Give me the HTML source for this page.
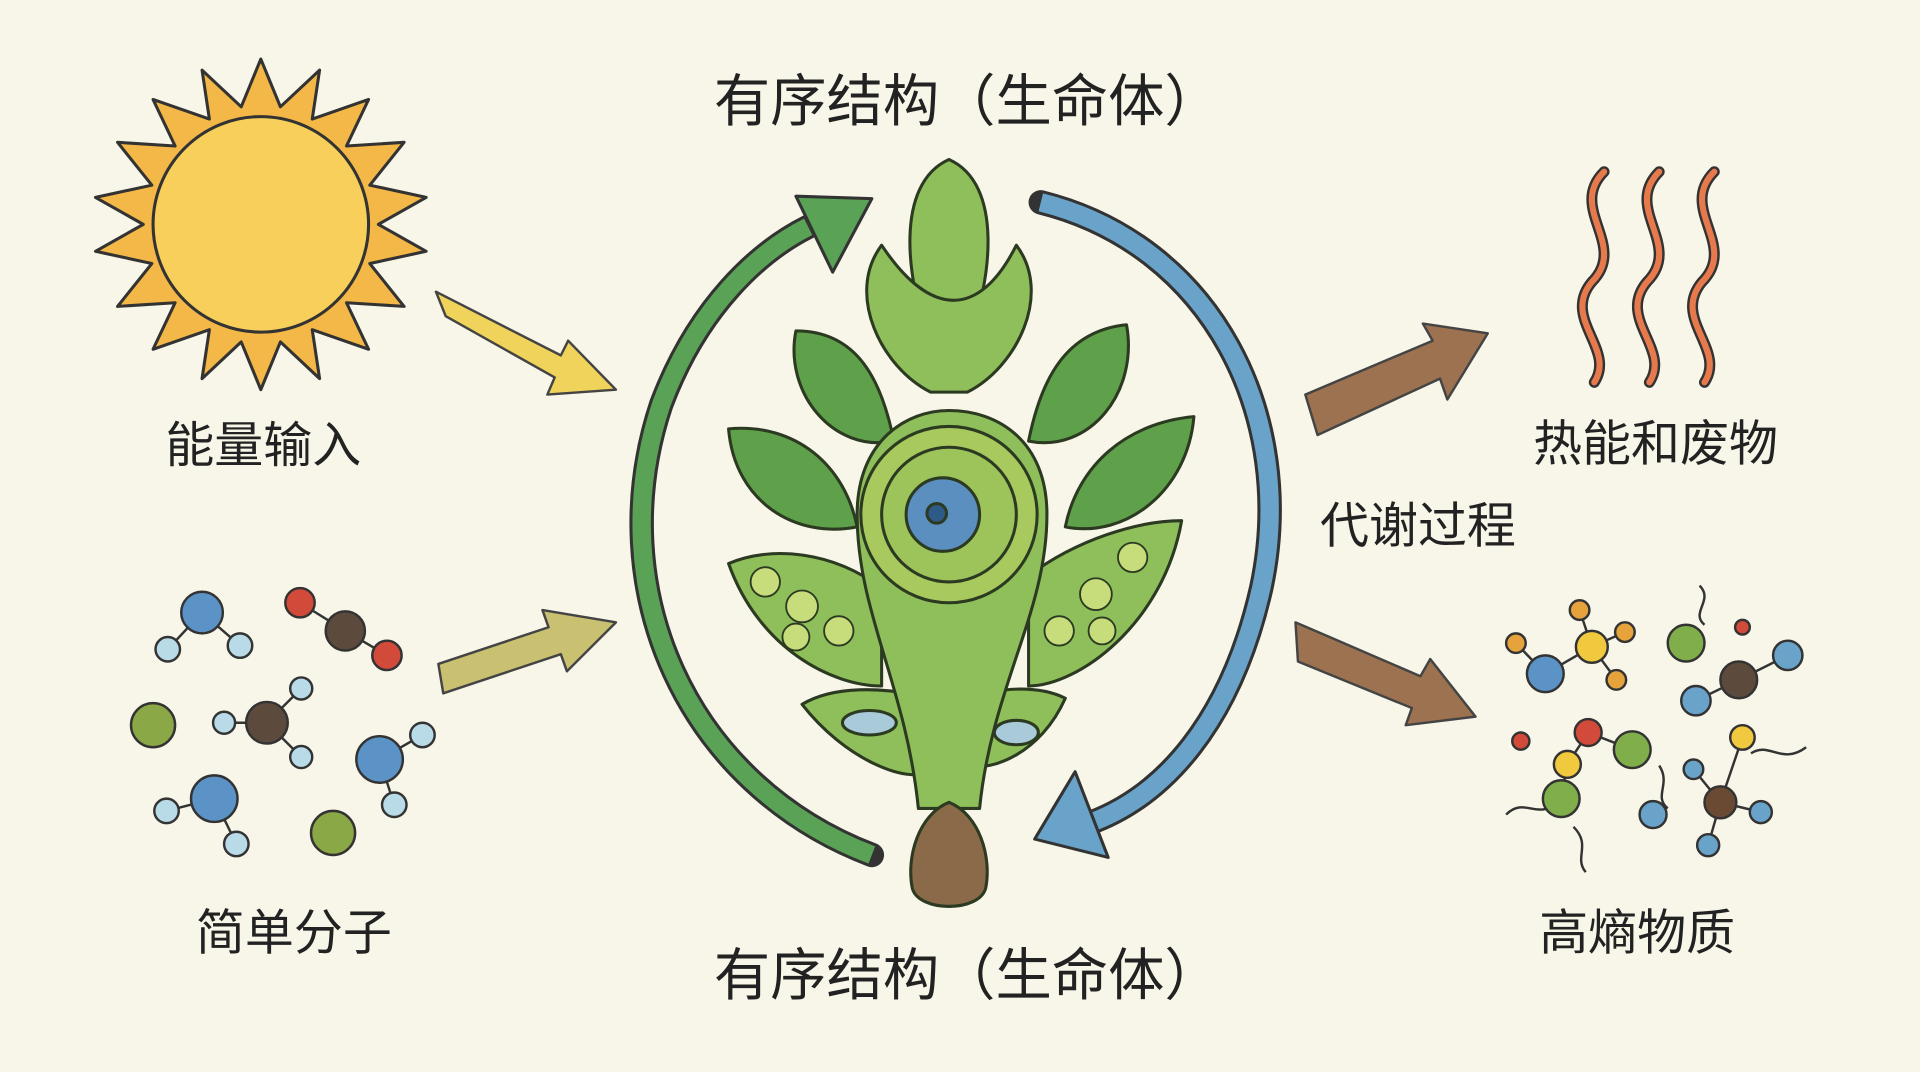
<!DOCTYPE html>
<html><head><meta charset="utf-8">
<style>
html,body{margin:0;padding:0;background:#f8f6e8;}
svg{display:block;}
text{font-family:"Liberation Sans","Noto Sans CJK SC",sans-serif;fill:#222;}
</style></head><body>
<svg width="1920" height="1072" viewBox="0 0 1568 875" xmlns="http://www.w3.org/2000/svg">
<rect width="1568" height="875" fill="#f8f6e8"/>
<g transform="translate(213,183)" stroke="#333" stroke-width="2.5" stroke-linejoin="round">
<polygon fill="#f3b847" points="
0,-135 16,-96 48,-126 42,-86 88,-102 70,-64 117,-67 89,-32 135,-22 96,0 135,22 89,32 117,67 70,64 88,102 42,86 48,126 16,96 0,135 -16,96 -48,126 -42,86 -88,102 -70,64 -117,67 -89,32 -135,22 -96,0 -135,-22 -89,-32 -117,-67 -70,-64 -88,-102 -42,-86 -48,-126 -16,-96"/>
<circle r="88" fill="#f7cf5a"/>
</g>
<text x="215" y="377" font-size="40" text-anchor="middle">能量输入</text>
<g stroke="#444" stroke-width="2" stroke-linejoin="round">
<polygon fill="#f0d35a" points="356,238 458,290 464,278 503,318 447,322 453,308 364,258"/>
<polygon fill="#c9c071" points="358,542 448,512 443,498 503,508 463,548 458,534 362,566"/>
</g>
<g stroke="#333" stroke-width="2">
<line x1="165" y1="500" x2="196" y2="527"/><line x1="165" y1="500" x2="137" y2="530"/>
<line x1="245" y1="492" x2="282" y2="515"/><line x1="282" y1="515" x2="316" y2="535"/>
<line x1="218" y1="590" x2="183" y2="590"/><line x1="218" y1="590" x2="246" y2="562"/><line x1="218" y1="590" x2="246" y2="618"/>
<line x1="310" y1="620" x2="345" y2="600"/><line x1="310" y1="620" x2="322" y2="657"/>
<line x1="175" y1="652" x2="136" y2="662"/><line x1="175" y1="652" x2="193" y2="689"/>
<circle cx="165" cy="500" r="17" fill="#5b93c6"/><circle cx="196" cy="527" r="10" fill="#b9dbe8"/><circle cx="137" cy="530" r="10" fill="#b9dbe8"/>
<circle cx="245" cy="492" r="12" fill="#d14a3a"/><circle cx="282" cy="515" r="16" fill="#5c4a3c"/><circle cx="316" cy="535" r="12" fill="#d14a3a"/>
<circle cx="125" cy="592" r="18" fill="#8aa845"/>
<circle cx="218" cy="590" r="17" fill="#5c4a3c"/><circle cx="183" cy="590" r="9" fill="#b9dbe8"/><circle cx="246" cy="562" r="9" fill="#b9dbe8"/><circle cx="246" cy="618" r="9" fill="#b9dbe8"/>
<circle cx="310" cy="620" r="19" fill="#5b93c6"/><circle cx="345" cy="600" r="10" fill="#b9dbe8"/><circle cx="322" cy="657" r="10" fill="#b9dbe8"/>
<circle cx="175" cy="652" r="19" fill="#5b93c6"/><circle cx="136" cy="662" r="10" fill="#b9dbe8"/><circle cx="193" cy="689" r="10" fill="#b9dbe8"/>
<circle cx="272" cy="680" r="18" fill="#8aa845"/>
</g>
<text x="240" y="775" font-size="40" text-anchor="middle">简单分子</text>
<text x="790" y="98" font-size="46" text-anchor="middle">有序结构（生命体）</text>
<text x="790" y="812" font-size="46" text-anchor="middle">有序结构（生命体）</text>
<path d="M712,698 C560,640 490,480 540,330 C570,250 620,205 660,185" fill="none" stroke="#333" stroke-width="20" stroke-linecap="round"/>
<path d="M712,698 C560,640 490,480 540,330 C570,250 620,205 660,185" fill="none" stroke="#5aa255" stroke-width="15"/>
<polygon points="650,160 712,162 680,222" fill="#5aa255" stroke="#333" stroke-width="2.5" stroke-linejoin="round"/>
<path d="M850,165 C990,200 1060,340 1030,480 C1005,590 950,650 890,672" fill="none" stroke="#333" stroke-width="20" stroke-linecap="round"/>
<path d="M850,165 C990,200 1060,340 1030,480 C1005,590 950,650 890,672" fill="none" stroke="#6aa3c9" stroke-width="15"/>
<polygon points="845,685 878,630 905,700" fill="#6aa3c9" stroke="#333" stroke-width="2.5" stroke-linejoin="round"/>
<g stroke="#2c3a22" stroke-width="2.5" stroke-linejoin="round">
<path d="M775,130 C820,150 810,230 790,280 L760,280 C740,230 730,150 775,130Z" fill="#8fbf5a"/>
<path d="M720,200 C690,240 720,300 760,320 L790,320 C830,300 860,240 830,200 C800,260 760,260 720,200Z" fill="#8fbf5a"/>
<path d="M650,270 C640,320 680,370 730,360 C720,310 700,270 650,270Z" fill="#5fa04a"/>
<path d="M920,265 C930,320 890,370 840,360 C850,310 870,270 920,265Z" fill="#5fa04a"/>
<path d="M595,350 C600,410 650,440 700,430 C690,380 650,345 595,350Z" fill="#5fa04a"/>
<path d="M975,340 C970,400 920,440 870,430 C880,380 920,345 975,340Z" fill="#5fa04a"/>
<path d="M595,460 C620,530 680,560 720,560 L720,480 C680,450 630,445 595,460Z" fill="#8fbf5a"/>
<path d="M965,425 C950,510 880,560 840,560 L840,470 C880,440 930,425 965,425Z" fill="#8fbf5a"/>
<path d="M655,575 C690,620 740,640 760,630 L760,570 C720,560 680,560 655,575Z" fill="#8fbf5a"/>
<path d="M870,570 C850,615 810,630 790,625 L790,570 C820,560 850,560 870,570Z" fill="#8fbf5a"/>
<path d="M700,420 C700,360 740,335 775,335 C815,335 855,360 855,420 C855,500 810,560 800,660 L750,660 C740,560 700,500 700,420Z" fill="#8fbf5a"/>
<circle cx="775" cy="420" r="72" fill="#a8c95e"/>
<circle cx="775" cy="420" r="55" fill="#9cc45a"/>
<circle cx="770" cy="420" r="30" fill="#5b8fc0"/>
<circle cx="765" cy="419" r="8" fill="#2e5a88"/>
<path d="M775,655 C800,665 810,700 805,725 C800,745 750,745 745,725 C740,700 750,665 775,655Z" fill="#8a6a48"/>
<ellipse cx="710" cy="590" rx="22" ry="10" fill="#a9cbd9"/>
<ellipse cx="830" cy="598" rx="18" ry="10" fill="#a9cbd9"/>
</g>
<g fill="#c7dc7a" stroke="#2c3a22" stroke-width="1.5">
<circle cx="625" cy="475" r="12"/><circle cx="655" cy="495" r="13"/><circle cx="685" cy="515" r="12"/><circle cx="650" cy="520" r="11"/>
<circle cx="925" cy="455" r="12"/><circle cx="895" cy="485" r="13"/><circle cx="865" cy="515" r="12"/><circle cx="900" cy="515" r="11"/>
</g>
<text x="1158" y="443" font-size="40" text-anchor="middle">代谢过程</text>
<g stroke="#444" stroke-width="2" stroke-linejoin="round" fill="#9c7250">
<polygon points="1066,322 1170,278 1162,264 1215,272 1182,326 1176,309 1076,355"/>
<polygon points="1058,508 1160,552 1168,538 1205,585 1148,592 1153,578 1060,540"/>
</g>
<g fill="none" stroke="#333" stroke-width="9" stroke-linecap="round">
<path d="M1310,140 C1280,170 1330,200 1300,230 C1275,260 1320,285 1302,312"/>
<path d="M1355,140 C1325,170 1375,200 1345,230 C1320,260 1365,285 1347,312"/>
<path d="M1400,140 C1370,170 1420,200 1390,230 C1365,260 1410,285 1392,312"/>
</g>
<g fill="none" stroke="#e67a4c" stroke-width="5" stroke-linecap="round">
<path d="M1310,140 C1280,170 1330,200 1300,230 C1275,260 1320,285 1302,312"/>
<path d="M1355,140 C1325,170 1375,200 1345,230 C1320,260 1365,285 1347,312"/>
<path d="M1400,140 C1370,170 1420,200 1390,230 C1365,260 1410,285 1392,312"/>
</g>
<text x="1352" y="376" font-size="40" text-anchor="middle">热能和废物</text>
<g stroke="#333" stroke-width="2" fill="none">
<path d="M1388,478 C1400,490 1380,500 1392,510"/>
<path d="M1230,665 C1245,650 1255,670 1272,655"/>
<path d="M1285,675 C1300,690 1285,700 1295,712"/>
<path d="M1430,615 C1445,605 1455,625 1475,610"/>
<path d="M1355,625 C1365,640 1350,650 1362,660"/>
<line x1="1262" y1="550" x2="1300" y2="528"/><line x1="1300" y1="528" x2="1290" y2="498"/><line x1="1300" y1="528" x2="1327" y2="516"/><line x1="1300" y1="528" x2="1320" y2="555"/><line x1="1262" y1="550" x2="1238" y2="525"/>
<line x1="1420" y1="555" x2="1460" y2="535"/><line x1="1420" y1="555" x2="1385" y2="572"/>
<line x1="1297" y1="598" x2="1280" y2="624"/><line x1="1297" y1="598" x2="1333" y2="612"/><line x1="1280" y1="624" x2="1275" y2="650"/>
<line x1="1405" y1="655" x2="1423" y2="602"/><line x1="1405" y1="655" x2="1383" y2="628"/><line x1="1405" y1="655" x2="1438" y2="663"/><line x1="1405" y1="655" x2="1395" y2="690"/>
</g>
<g stroke="#333" stroke-width="2">
<circle cx="1262" cy="550" r="15" fill="#5b93c6"/><circle cx="1238" cy="525" r="8" fill="#e6a33c"/>
<circle cx="1300" cy="528" r="13" fill="#f0c93e"/><circle cx="1290" cy="498" r="8" fill="#e6a33c"/><circle cx="1327" cy="516" r="8" fill="#e6a33c"/><circle cx="1320" cy="555" r="8" fill="#e6a33c"/>
<circle cx="1377" cy="525" r="15" fill="#7fae4a"/><circle cx="1423" cy="512" r="6" fill="#d14a3a"/>
<circle cx="1420" cy="555" r="15" fill="#5c4a3c"/><circle cx="1460" cy="535" r="12" fill="#6aa3c9"/><circle cx="1385" cy="572" r="12" fill="#6aa3c9"/>
<circle cx="1242" cy="605" r="7" fill="#d14a3a"/>
<circle cx="1297" cy="598" r="11" fill="#d14a3a"/><circle cx="1333" cy="612" r="15" fill="#7fae4a"/><circle cx="1280" cy="624" r="11" fill="#f0c93e"/><circle cx="1275" cy="652" r="15" fill="#7fae4a"/>
<circle cx="1350" cy="665" r="11" fill="#6aa3c9"/>
<circle cx="1423" cy="602" r="10" fill="#f0c93e"/><circle cx="1383" cy="628" r="8" fill="#6aa3c9"/>
<circle cx="1405" cy="655" r="13" fill="#6b4a33"/><circle cx="1438" cy="663" r="9" fill="#6aa3c9"/><circle cx="1395" cy="690" r="9" fill="#6aa3c9"/>
</g>
<text x="1337" y="775" font-size="40" text-anchor="middle">高熵物质</text>
</svg>
</body></html>
